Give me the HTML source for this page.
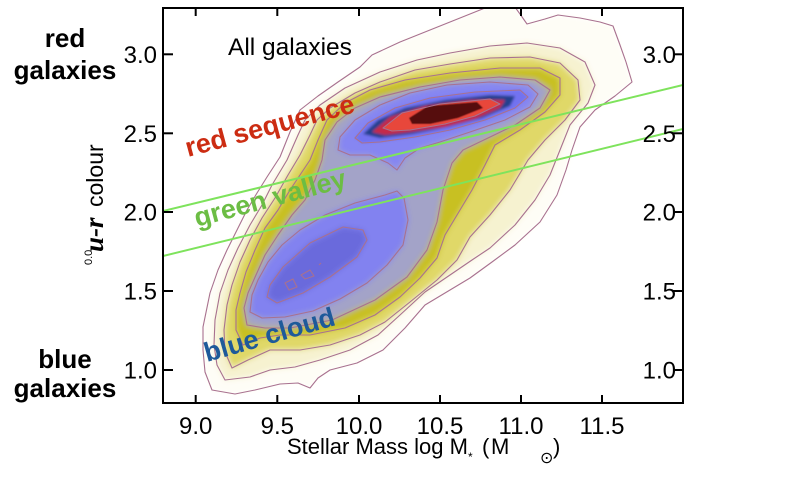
<!DOCTYPE html>
<html>
<head>
<meta charset="utf-8">
<style>
  html,body{margin:0;padding:0;background:#fff;}
  body{width:800px;height:480px;overflow:hidden;}
  svg{display:block;}
  .t{font-family:"Liberation Sans",Arial,sans-serif;fill:#000;}
</style>
</head>
<body>
<svg width="800" height="480" viewBox="0 0 800 480" xmlns="http://www.w3.org/2000/svg">
  <defs>
    <clipPath id="plot"><rect x="163" y="8" width="520" height="395"/></clipPath>
    <filter id="blur" x="-20%" y="-20%" width="140%" height="140%">
      <feGaussianBlur stdDeviation="3"/>
    </filter>
    <filter id="blur2" x="-20%" y="-20%" width="140%" height="140%">
      <feGaussianBlur stdDeviation="1.2"/>
    </filter>
    <filter id="blur3" x="-20%" y="-20%" width="140%" height="140%">
      <feGaussianBlur stdDeviation="0.6"/>
    </filter>
  </defs>
  <rect width="800" height="480" fill="#fff"/>

  <g clip-path="url(#plot)">
    <!-- filled density levels -->
    <g filter="url(#blur)">
      <polygon fill="#fefdf6" points="212,390 205,372 203,350 203,327 210,293 218,270 227,250 237,230 247,210 257,193 267,177 280,157 290,132 300,110 318,96 338,82 360,67 372,55 400,42 430,30 460,18 485,8 495,2 512,3 520,14 527,24 545,19 558,15 580,18 600,22 613,26 620,45 626,62 632,82 615,96 595,110 580,127 572,150 566,170 557,195 540,222 515,245 492,262 470,278 450,290 425,305 405,328 383,350 357,363 330,370 318,378 310,388 298,383 280,384 255,390 235,394"/>
      <polygon fill="#f6f2d0" points="225,380 217,365 214,345 215,320 220,293 228,270 238,248 250,225 262,205 272,185 287,160 298,135 305,120 320,105 345,88 380,72 417,60 450,53 490,46 527,43 560,48 585,62 595,85 588,103 570,125 560,150 550,175 535,200 515,225 490,248 472,260 450,275 425,292 400,315 378,335 350,350 320,360 295,367 270,370 250,377"/>
      <polygon fill="#e0d868" points="232,368 225,352 224,330 227,305 232,285 240,262 250,240 262,218 275,198 288,175 300,155 310,135 317,120 330,108 355,93 380,82 415,70 450,64 490,58 530,57 560,63 578,80 580,100 565,120 545,140 528,160 510,190 490,215 470,237 457,260 437,280 410,302 385,322 360,335 330,345 300,350 270,350 248,360"/>
      <polygon fill="#c8c024" points="243,345 236,330 236,310 240,293 246,272 255,250 265,228 278,210 290,190 300,175 310,160 318,140 327,120 345,103 370,90 405,80 450,73 500,68 540,68 560,78 560,95 545,112 520,130 495,145 485,165 472,190 460,210 445,235 437,258 420,278 400,297 375,315 345,328 310,335 280,335 260,338"/>
      <polygon fill="#a3a3c8" points="247,325 244,308 248,293 256,275 265,255 278,235 292,215 305,200 315,180 322,160 325,140 337,122 355,108 380,97 420,87 460,80 500,77 535,80 550,90 540,108 515,125 488,138 463,150 452,163 443,190 437,222 427,250 407,277 375,300 332,320 290,328 265,328"/>
      <polygon fill="#8686f2" points="338,150 340,137 355,120 380,105 410,93 447,85 490,82 528,85 538,94 530,107 505,120 470,132 440,142 420,148 405,158 397,170 388,163 370,155 350,155"/>
      <polygon fill="#8282f0" points="250,312 252,295 258,280 268,262 282,245 300,230 325,215 355,203 385,195 397,191 404,198 408,220 403,245 387,265 367,283 340,299 313,311 285,317 262,318"/>
      <polygon fill="#6a6adc" points="267,297 270,285 283,267 310,243 343,227 363,230 367,240 357,257 330,277 303,293 277,303"/>
    </g>
    <g filter="url(#blur2)">
      <polygon fill="#7272f0" points="355,138 368,123 395,108 430,98 475,92 520,90 528,97 515,108 485,120 450,130 415,137 380,142 362,143"/>
      <polygon fill="#22408e" points="363,134 378,120 405,108 445,100 490,95 515,96 510,106 482,118 448,127 412,134 380,138"/>
      <polygon fill="#c42a48" points="372,132 390,117 425,106 470,100 505,100 500,108 475,119 445,127 410,132 385,135"/>
    </g>
    <g filter="url(#blur3)">
      <polygon fill="#e8463a" points="383,128 402,113 440,104 490,99 500,104 475,116 445,124 410,130 392,131"/>
      <polygon fill="#560909" points="409,118 428,106 477,102 483,108 458,118 430,124 412,124"/>
    </g>

    <!-- contour lines -->
    <g fill="none" stroke="#a8718f" stroke-width="1.1" stroke-linejoin="round">
      <polygon points="212,390 205,372 203,350 203,327 210,293 218,270 227,250 237,230 247,210 257,193 267,177 280,157 290,132 300,110 318,96 338,82 360,67 372,55 400,42 430,30 460,18 485,8 495,2 512,3 520,14 527,24 545,19 558,15 580,18 600,22 613,26 620,45 626,62 632,82 615,96 595,110 580,127 572,150 566,170 557,195 540,222 515,245 492,262 470,278 450,290 425,305 405,328 383,350 357,363 330,370 318,378 310,388 298,383 280,384 255,390 235,394"/>
      <polygon points="225,380 217,365 214,345 215,320 220,293 228,270 238,248 250,225 262,205 272,185 287,160 298,135 305,120 320,105 345,88 380,72 417,60 450,53 490,46 527,43 560,48 585,62 595,85 588,103 570,125 560,150 550,175 535,200 515,225 490,248 472,260 450,275 425,292 400,315 378,335 350,350 320,360 295,367 270,370 250,377"/>
      <polygon points="232,368 225,352 224,330 227,305 232,285 240,262 250,240 262,218 275,198 288,175 300,155 310,135 317,120 330,108 355,93 380,82 415,70 450,64 490,58 530,57 560,63 578,80 580,100 565,120 545,140 528,160 510,190 490,215 470,237 457,260 437,280 410,302 385,322 360,335 330,345 300,350 270,350 248,360"/>
      <polygon points="243,345 236,330 236,310 240,293 246,272 255,250 265,228 278,210 290,190 300,175 310,160 318,140 327,120 345,103 370,90 405,80 450,73 500,68 540,68 560,78 560,95 545,112 520,130 495,145 485,165 472,190 460,210 445,235 437,258 420,278 400,297 375,315 345,328 310,335 280,335 260,338"/>
      <polygon points="247,325 244,308 248,293 256,275 265,255 278,235 292,215 305,200 315,180 322,160 325,140 337,122 355,108 380,97 420,87 460,80 500,77 535,80 550,90 540,108 515,125 488,138 463,150 452,163 443,190 437,222 427,250 407,277 375,300 332,320 290,328 265,328"/>
      <polygon points="338,150 340,137 355,120 380,105 410,93 447,85 490,82 528,85 538,94 530,107 505,120 470,132 440,142 420,148 405,158 397,170 388,163 370,155 350,155"/>
      <polygon points="250,312 252,295 258,280 268,262 282,245 300,230 325,215 355,203 385,195 397,191 404,198 408,220 403,245 387,265 367,283 340,299 313,311 285,317 262,318"/>
      <polygon points="355,138 368,123 395,108 430,98 475,92 520,90 528,97 515,108 485,120 450,130 415,137 380,142 362,143"/>
      <polygon points="267,297 270,285 283,267 310,243 343,227 363,230 367,240 357,257 330,277 303,293 277,303"/>
      <polygon points="383,128 402,113 440,104 490,99 500,104 475,116 445,124 410,130 392,131"/>
      <polygon points="285,283 293,279 297,287 289,290"/>
      <polygon points="301,275 310,270 314,276 305,279"/>
      <line x1="319" y1="265" x2="321" y2="263"/>
    </g>

    <!-- green valley lines -->
    <line x1="163" y1="211" x2="683" y2="85" stroke="#7ee35c" stroke-width="2"/>
    <line x1="163" y1="256" x2="683" y2="129" stroke="#7ee35c" stroke-width="2"/>
  </g>

  <!-- frame -->
  <rect x="163" y="8" width="520" height="395" fill="none" stroke="#000" stroke-width="2"/>
  <!-- ticks -->
  <g stroke="#000" stroke-width="2">
    <line x1="195.7" y1="403" x2="195.7" y2="395"/>
    <line x1="277.3" y1="403" x2="277.3" y2="395"/>
    <line x1="359" y1="403" x2="359" y2="395"/>
    <line x1="440" y1="403" x2="440" y2="395"/>
    <line x1="521" y1="403" x2="521" y2="395"/>
    <line x1="602" y1="403" x2="602" y2="395"/>
    <line x1="195.7" y1="8" x2="195.7" y2="16"/>
    <line x1="277.3" y1="8" x2="277.3" y2="16"/>
    <line x1="359" y1="8" x2="359" y2="16"/>
    <line x1="440" y1="8" x2="440" y2="16"/>
    <line x1="521" y1="8" x2="521" y2="16"/>
    <line x1="602" y1="8" x2="602" y2="16"/>
    <line x1="163" y1="54.3" x2="173" y2="54.3"/>
    <line x1="163" y1="133.3" x2="173" y2="133.3"/>
    <line x1="163" y1="212" x2="173" y2="212"/>
    <line x1="163" y1="291" x2="173" y2="291"/>
    <line x1="163" y1="370" x2="173" y2="370"/>
    <line x1="683" y1="54.3" x2="673" y2="54.3"/>
    <line x1="683" y1="133.3" x2="673" y2="133.3"/>
    <line x1="683" y1="212" x2="673" y2="212"/>
    <line x1="683" y1="291" x2="673" y2="291"/>
    <line x1="683" y1="370" x2="673" y2="370"/>
  </g>

  <!-- tick labels -->
  <g class="t" font-size="24" text-anchor="middle">
    <text x="195.7" y="434">9.0</text>
    <text x="277.3" y="434">9.5</text>
    <text x="359" y="434">10.0</text>
    <text x="440" y="434">10.5</text>
    <text x="521" y="434">11.0</text>
    <text x="602" y="434">11.5</text>
  </g>
  <g class="t" font-size="24" text-anchor="end">
    <text x="157" y="63">3.0</text>
    <text x="157" y="142">2.5</text>
    <text x="157" y="220.5">2.0</text>
    <text x="157" y="299.5">1.5</text>
    <text x="157" y="378.5">1.0</text>
    <text x="676" y="63">3.0</text>
    <text x="676" y="142">2.5</text>
    <text x="676" y="220.5">2.0</text>
    <text x="676" y="299.5">1.5</text>
    <text x="676" y="378.5">1.0</text>
  </g>

  <!-- x axis label -->
  <g class="t">
    <text x="287" y="454" font-size="22">Stellar Mass log M</text>
    <text x="468" y="461" font-size="12">*</text>
    <text x="482" y="454" font-size="22">(</text>
    <text x="491" y="454" font-size="22">M</text>
    <text x="540" y="463" font-size="16" font-family="'DejaVu Sans',sans-serif">⊙</text>
    <text x="553" y="454" font-size="22">)</text>
  </g>

  <!-- y axis label -->
  <text class="t" transform="translate(92,265) rotate(-90)" font-size="11">0.0</text>
  <text transform="translate(103,252) rotate(-90)" font-size="27" font-family="'Liberation Serif',serif" font-weight="bold" font-style="italic" fill="#000">u-r</text>
  <text class="t" transform="translate(103,207) rotate(-90)" font-size="23">colour</text>

  <!-- All galaxies -->
  <text class="t" x="228" y="55" font-size="24.5">All galaxies</text>

  <!-- left side labels -->
  <g class="t" font-size="26" font-weight="bold" text-anchor="middle">
    <text x="65" y="47">red</text>
    <text x="65" y="79">galaxies</text>
    <text x="65" y="368">blue</text>
    <text x="65" y="397">galaxies</text>
  </g>

  <!-- region labels -->
  <text transform="translate(188,157) rotate(-15)" font-family="'Liberation Sans',Arial,sans-serif" font-size="27" font-weight="bold" fill="#cc2c12">red sequence</text>
  <text transform="translate(197,227) rotate(-15)" font-family="'Liberation Sans',Arial,sans-serif" font-size="27" font-weight="bold" fill="#6cbd44">green valley</text>
  <text transform="translate(207,362) rotate(-16)" font-family="'Liberation Sans',Arial,sans-serif" font-size="27" font-weight="bold" fill="#1e5a9a">blue cloud</text>
</svg>
</body>
</html>
